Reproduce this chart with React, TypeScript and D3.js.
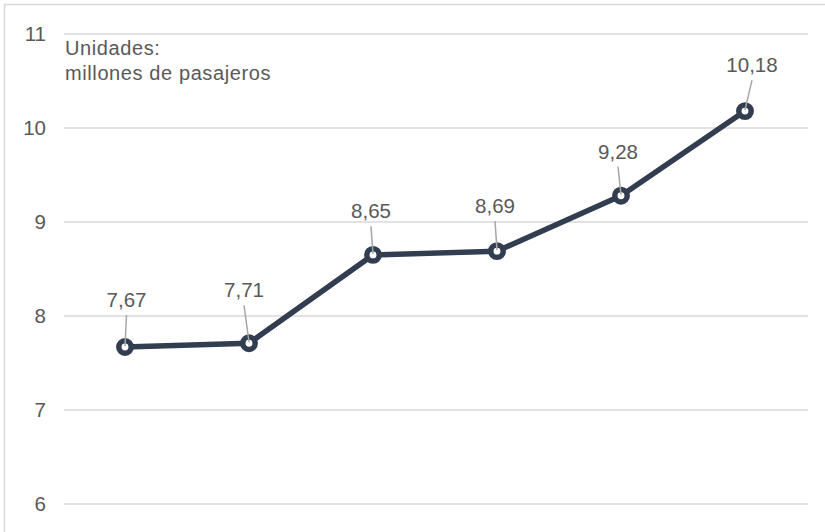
import React from "react";
import * as d3 from "d3";

const categories = ["1", "2", "3", "4", "5", "6"];
const values = [7.67, 7.71, 8.65, 8.69, 9.28, 10.18];
const valueLabels = ["7,67", "7,71", "8,65", "8,69", "9,28", "10,18"];
const yTicks = [6, 7, 8, 9, 10, 11];
const unitLines = ["Unidades:", "millones de pasajeros"];

// label placement offsets (layout, px) relative to each point
const labelOffsets: [number, number][] = [
  [1.5, -40],
  [-5, -46],
  [-2, -36.5],
  [-2, -38],
  [-3, -37],
  [7, -39],
];

const W = 825;
const H = 532;
const FONT = "'Liberation Sans', Arial, sans-serif";
const TEXT = "#595959";
const GRID = "#d9d9d9";
const LINE = "#323e50";

export default function App() {
  const x = d3.scalePoint<string>().domain(categories).range([63, 807]).padding(0.5);
  const y = d3.scaleLinear().domain([6, 11]).range([504, 34]);
  const pts = values.map((v, i) => [x(categories[i]) as number, y(v)] as [number, number]);
  const line = d3.line<[number, number]>()(pts) as string;

  return (
    <svg width={W} height={H} style={{ position: "absolute", left: 0, top: 0, background: "#fff" }}>
      <rect x={4.5} y={4.5} width={840} height={560} fill="#fff" stroke={GRID} strokeWidth={1.5} />
      {yTicks.map((t) => (
        <g key={t}>
          <line x1={64} x2={808} y1={y(t)} y2={y(t)} stroke={GRID} strokeWidth={1.5} />
          <text x={46} y={y(t)} dy="0.35em" textAnchor="end" fontFamily={FONT} fontSize={20.5} fill={TEXT}>
            {t}
          </text>
        </g>
      ))}
      {unitLines.map((s, i) => (
        <text key={s} x={65} y={55 + i * 25} fontFamily={FONT} fontSize={20} letterSpacing={0.6} fill={TEXT}>
          {s}
        </text>
      ))}
      <path d={line} fill="none" stroke={LINE} strokeWidth={5.5} strokeLinejoin="round" />
      {pts.map(([px, py], i) => (
        <circle key={i} cx={px} cy={py} r={6.2} fill="#fff" stroke={LINE} strokeWidth={5.5} />
      ))}
      {pts.map(([px, py], i) => {
        const [dx, dy] = labelOffsets[i];
        const lx = px + dx;
        const ly = py + dy;
        return (
          <g key={"l" + i}>
            <line x1={lx} y1={ly + 8} x2={px} y2={py - 1} stroke="#a6a6a6" strokeWidth={1.5} />
            <text x={lx} y={ly} textAnchor="middle" fontFamily={FONT} fontSize={20.5} fill={TEXT}>
              {valueLabels[i]}
            </text>
          </g>
        );
      })}
    </svg>
  );
}
